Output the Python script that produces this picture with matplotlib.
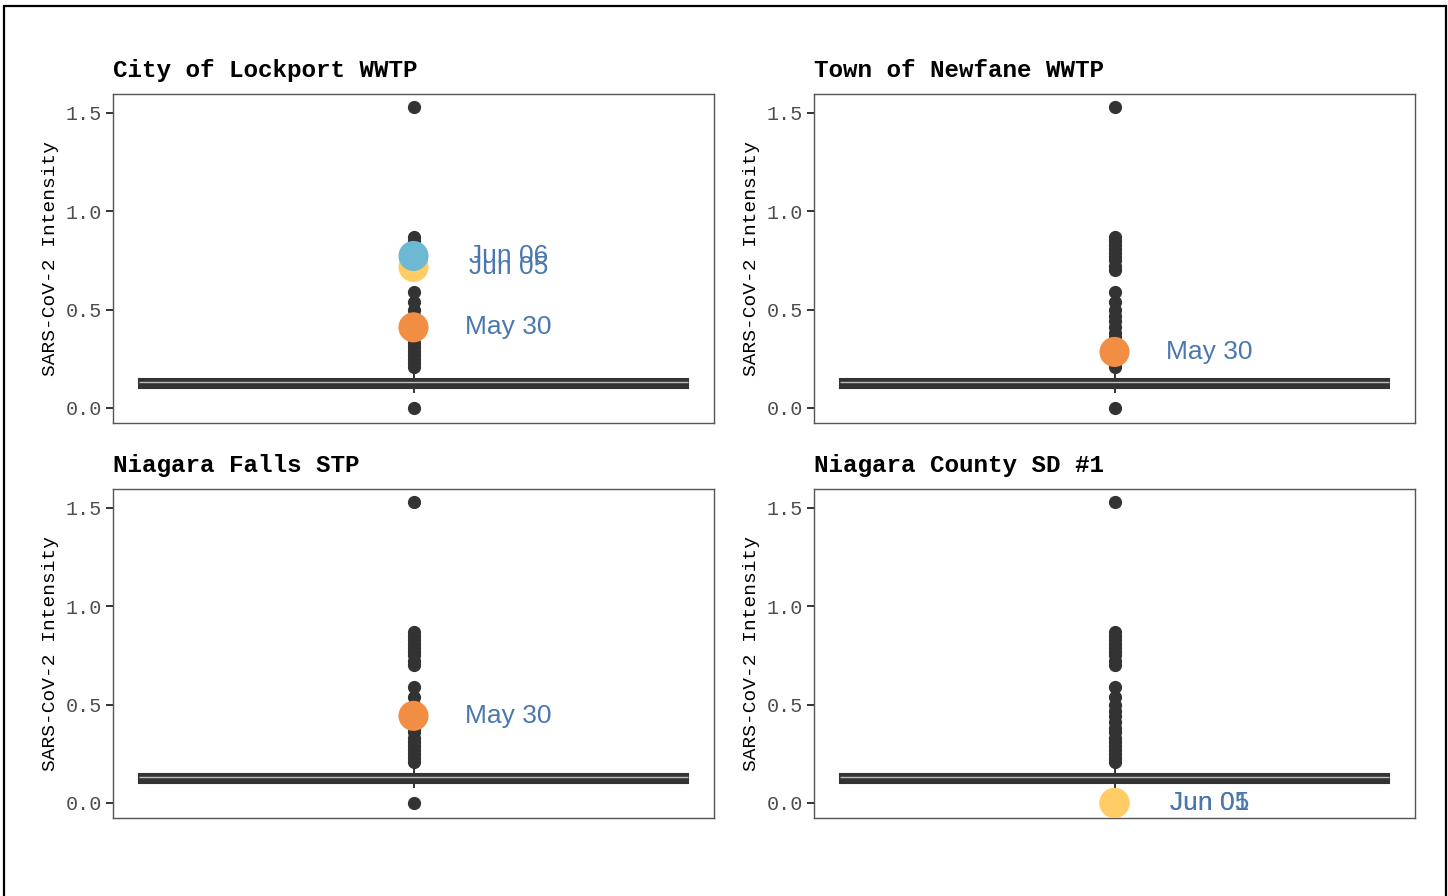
import matplotlib
matplotlib.use("Agg")
import matplotlib.pyplot as plt
from matplotlib.patches import Rectangle

# sites shown in the four panels
sites = ["City of Lockport WWTP", "Town of Newfane WWTP",
         "Niagara Falls STP", "Niagara County SD #1"]

# box statistics (shared distribution across all sites)
q1, med, q3 = 0.103, 0.133, 0.148
whislo, whishi = 0.08, 0.19
fliers = [0.0, 0.21, 0.23, 0.25, 0.27, 0.29, 0.31, 0.33, 0.36, 0.38, 0.41,
          0.44, 0.47, 0.50, 0.54, 0.59, 0.70, 0.72, 0.75, 0.77, 0.79, 0.81,
          0.83, 0.85, 0.87, 1.53]

# highlighted recent samples per site: (label, value)
highlights = {
    "City of Lockport WWTP": [("May 30", 0.41), ("Jun 05", 0.717), ("Jun 06", 0.773)],
    "Town of Newfane WWTP": [("May 30", 0.285)],
    "Niagara Falls STP": [("May 30", 0.443)],
    "Niagara County SD #1": [("Jun 01", 0.0), ("Jun 05", 0.0)],
}
date_colors = {"May 30": "#F28E43", "Jun 01": "#FFCC66",
               "Jun 05": "#FFCC66", "Jun 06": "#6DB9D3"}

ylabel = "SARS-CoV-2 Intensity"
yticks = [0.0, 0.5, 1.0, 1.5]

W, H = 1448, 896
fig = plt.figure(figsize=(W / 100, H / 100), dpi=100)

# outer frame
fig.patches.append(Rectangle((4 / W, -0.05), 1442 / W, 1.05 - 6 / H,
                             transform=fig.transFigure, fill=False,
                             edgecolor="black", linewidth=1.6))

lefts = [113, 814]
tops = [94, 489]
aw, ah = 601, 329

mono = "Liberation Mono"

for i, site in enumerate(sites):
    r, c = divmod(i, 2)
    x0 = lefts[c] / W
    y0 = (H - tops[r] - ah) / H
    ax = fig.add_axes([x0, y0, aw / W, ah / H])

    stats = [dict(q1=q1, med=med, q3=q3, whislo=whislo, whishi=whishi,
                  fliers=fliers)]
    ax.bxp(stats, positions=[0], widths=0.913, showcaps=False, patch_artist=True,
           boxprops=dict(facecolor="#333333", edgecolor="#333333", linewidth=1.5),
           medianprops=dict(color="#BDBDBD", linewidth=1.0),
           whiskerprops=dict(color="#333333", linewidth=1.4),
           flierprops=dict(marker="o", markersize=8.5, markerfacecolor="#333333",
                           markeredgecolor="#333333"))

    for label, val in highlights[site]:
        ax.scatter([0], [val], s=470, color=date_colors[label], zorder=5,
                   edgecolors="none")
        ax.text(0.158, val, label, color="#4A78AE", fontsize=19,
                family="Liberation Sans", ha="center", va="center", zorder=6)

    ax.set_xlim(-0.5, 0.5)
    ax.set_ylim(-0.0765, 1.5965)
    ax.set_xticks([])
    ax.set_yticks(yticks)
    ax.set_yticklabels([f"{t:.1f}" for t in yticks], family=mono,
                       fontsize=14.5, color="#4D4D4D")
    ax.tick_params(axis="y", length=5, width=1.4, color="#333333", pad=3)
    for sp in ax.spines.values():
        sp.set_color("#555555")
        sp.set_linewidth(1.0)
    ax.set_ylabel(ylabel, family=mono, fontsize=14, labelpad=5)
    ax.set_title(site, loc="left", family=mono, fontweight="bold",
                 fontsize=17.5, pad=12)

fig.savefig("out.png", dpi=100)
